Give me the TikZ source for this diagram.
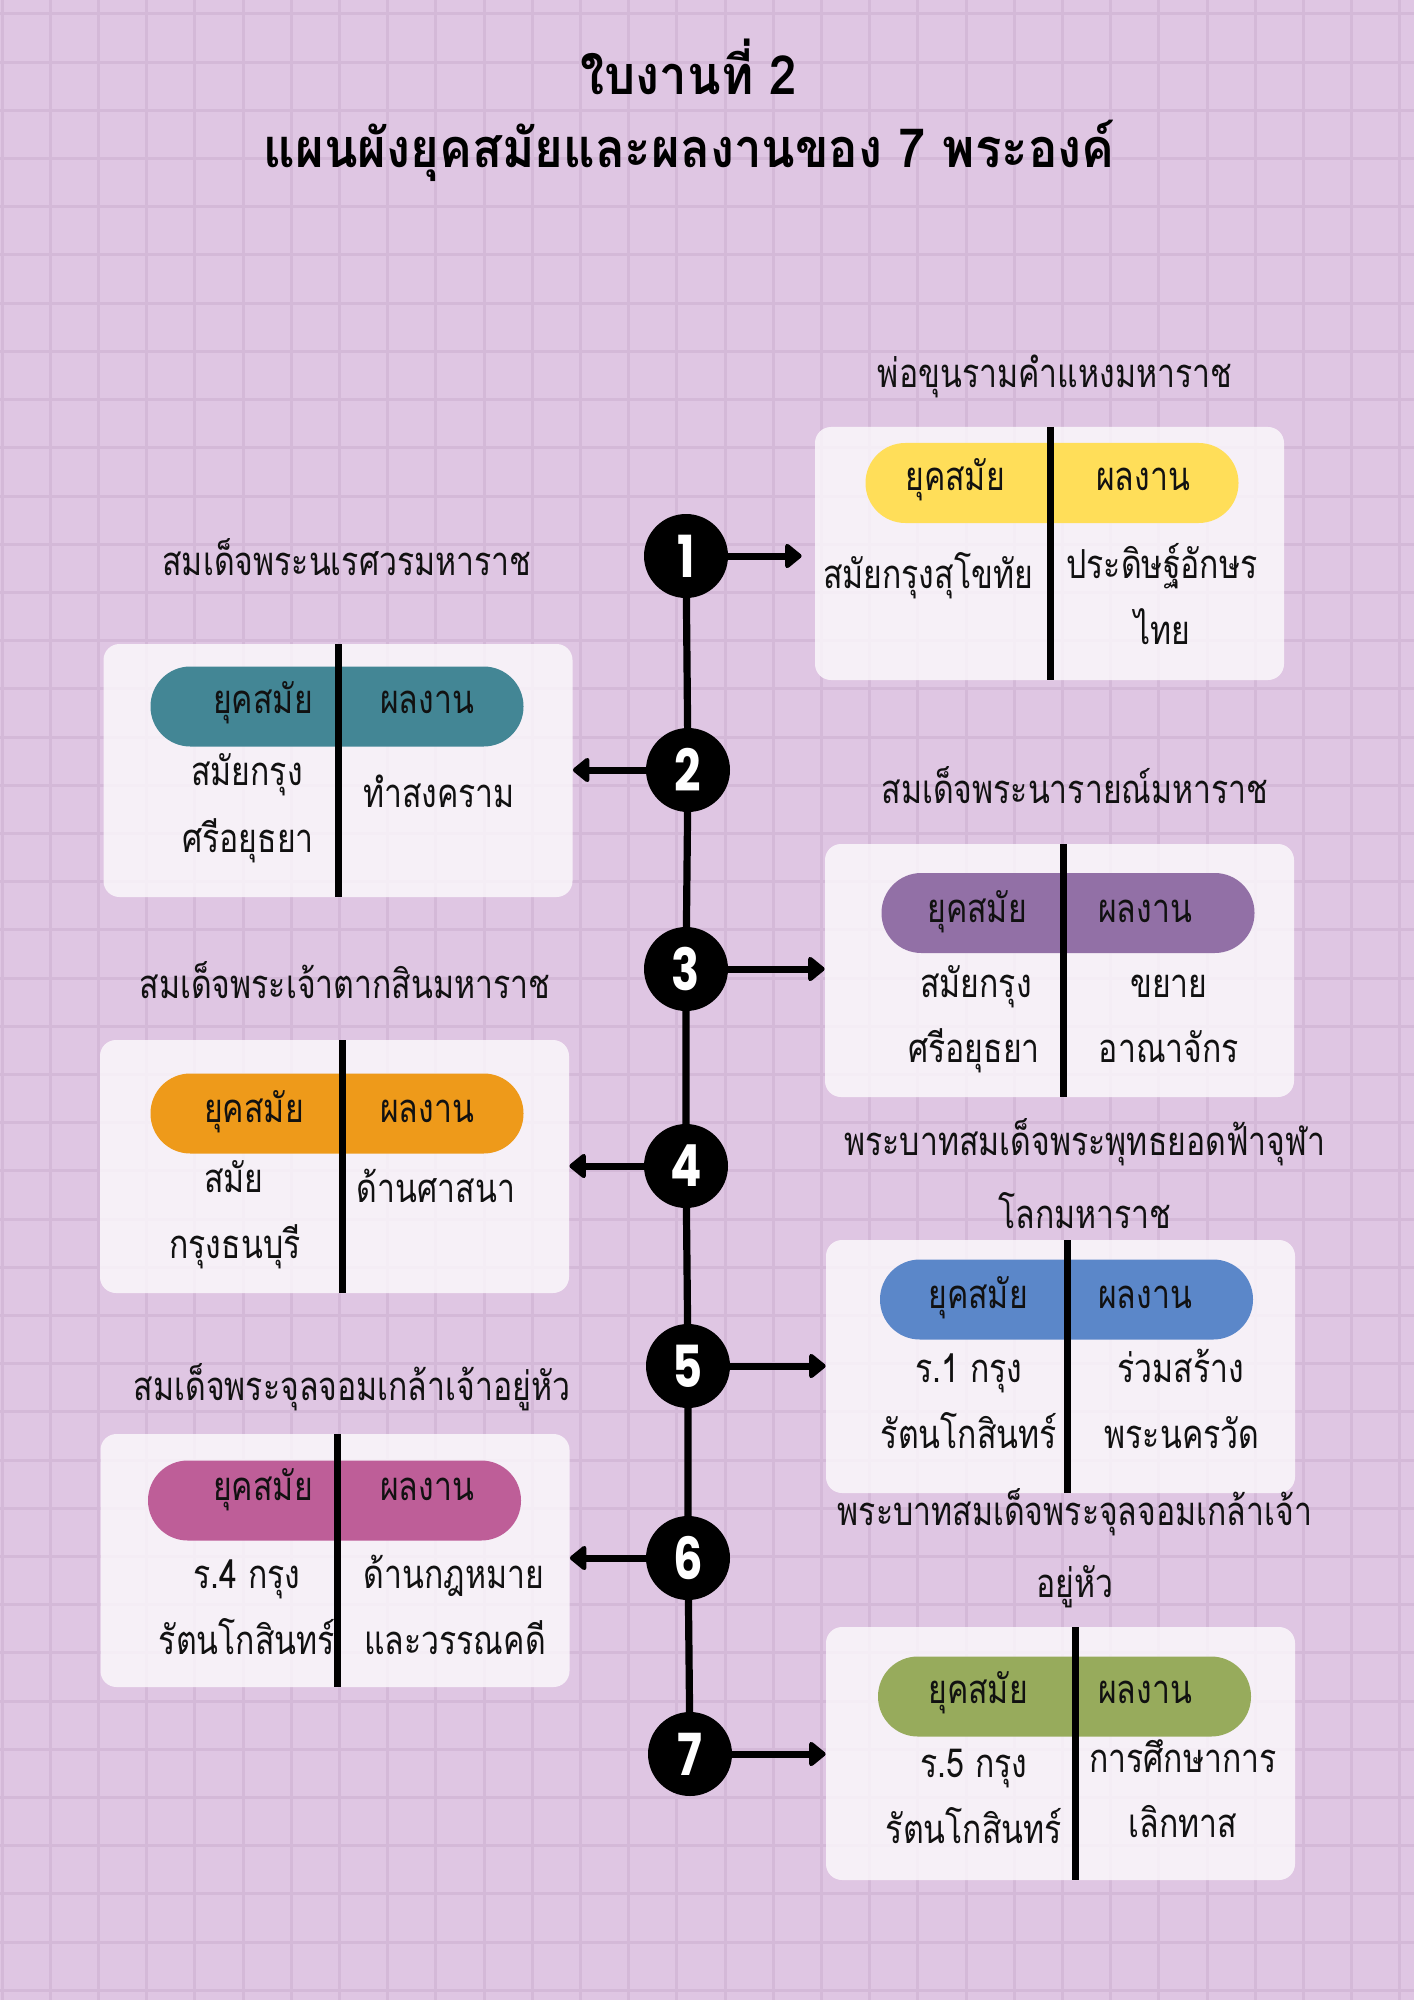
\documentclass[tikz,border=0pt]{standalone}
\usepackage{fontspec}
\usepackage{graphicx}
\usetikzlibrary{arrows.meta}
\newfontfamily\thaifont[Script=Thai,FakeStretch=0.8]{Loma}
\newfontfamily\thaititle[Script=Thai,FakeStretch=0.91]{Loma}
\newfontfamily\numfont{Poppins}
\definecolor{bgc}{HTML}{DFC6E3}
\definecolor{gridc}{HTML}{D4B9D8}
\definecolor{ink}{HTML}{111111}
\definecolor{cyellow}{HTML}{FFDE59}
\definecolor{cteal}{HTML}{438695}
\definecolor{cpurple}{HTML}{9270A6}
\definecolor{corange}{HTML}{EE9A1A}
\definecolor{cblue}{HTML}{5B87C9}
\definecolor{cpink}{HTML}{BE5E98}
\definecolor{cgreen}{HTML}{97AB5C}
\tikzset{
  gridline/.style={draw=gridc, line width=1.5pt},
  spine/.style={draw=black, line width=3.6pt},
  divline/.style={draw=black, line width=3.5pt},
  arr/.style={draw=black, line width=3.5pt, -{Triangle[length=9pt,width=14pt,round]}},
  card/.style={rectangle, rounded corners=8pt, fill=white, fill opacity=0.75, draw=none,
    minimum width=234.5pt, minimum height=126.5pt, inner sep=0pt},
  pill/.style={rectangle, rounded corners=19.9pt, draw=none,
    minimum width=186.5pt, minimum height=40pt, inner sep=0pt},
  num/.style={circle, fill=black, minimum size=42pt, inner sep=0pt, text=white,
    font=\numfont\bfseries\fontsize{29pt}{29pt}\selectfont},
  txt/.style={anchor=base, inner sep=0pt, text=ink,
    font=\thaifont\fontsize{20pt}{24pt}\selectfont},
  ttl/.style={anchor=base, inner sep=0pt, text=black,
    font=\thaititle\bfseries\fontsize{27pt}{32pt}\selectfont},
}
\newcommand\dg[1]{\scalebox{0.8}[1]{#1}}
\begin{document}
\begin{tikzpicture}[x=0.5pt,y=-0.5pt]
\useasboundingbox (0,0) rectangle (1414,2000);
\fill[bgc] (0,0) rectangle (1414,2000);
\foreach \i in {0,...,29} \draw[gridline] ({2+48.2*\i},0) -- ({2+48.2*\i},2000);
\foreach \i in {0,...,41} \draw[gridline] (0,{14+48.2*\i}) -- (1414,{14+48.2*\i});

% titles
\node[ttl] (title1) at (689,95) {ใบงานที่ 2};
\node[ttl] (title2) at (689,168) {แผนผังยุคสมัยและผลงานของ 7 พระองค์};

% cards
\node[card] (b1) at (1049.5,553.5) {};
\node[card] (b2) at (338,770.5) {};
\node[card] (b3) at (1059.5,970.5) {};
\node[card] (b4) at (334.5,1166.5) {};
\node[card] (b5) at (1060.5,1366.5) {};
\node[card] (b6) at (335,1560.5) {};
\node[card] (b7) at (1060.5,1753.5) {};

% pills
\node[pill, fill=cyellow] (p1) at (1052,483) {};
\node[pill, fill=cteal] (p2) at (337,706.5) {};
\node[pill, fill=cpurple] (p3) at (1068,913) {};
\node[pill, fill=corange] (p4) at (337,1113.5) {};
\node[pill, fill=cblue] (p5) at (1066.5,1299.5) {};
\node[pill, fill=cpink] (p6) at (334.5,1500.5) {};
\node[pill, fill=cgreen] (p7) at (1064.5,1696.5) {};

% dividers
\draw[divline] (1050,427) -- (1050,680);
\draw[divline] (338,644) -- (338,897);
\draw[divline] (1063,844) -- (1063,1097);
\draw[divline] (342,1040) -- (342,1293);
\draw[divline] (1067,1240) -- (1067,1493);
\draw[divline] (337,1434) -- (337,1687);
\draw[divline] (1075,1627) -- (1075,1880);

% circles
\coordinate (k1) at (686,556);
\coordinate (k2) at (688,770);
\coordinate (k3) at (686,969);
\coordinate (k4) at (686,1166);
\coordinate (k5) at (688,1366);
\coordinate (k6) at (688,1558);
\coordinate (k7) at (690,1754);
\draw[spine] (k1) -- (k2) -- (k3) -- (k4) -- (k5) -- (k6) -- (k7);
\node[num] (c1) at (k1) {\dg{1}};
\node[num] (c2) at (k2) {\dg{2}};
\node[num] (c3) at (k3) {\dg{3}};
\node[num] (c4) at (k4) {\dg{4}};
\node[num] (c5) at (k5) {\dg{5}};
\node[num] (c6) at (k6) {\dg{6}};
\node[num] (c7) at (k7) {\dg{7}};
\draw[arr, shorten >=6.5pt] (c1) -- (c1 -| b1.west);
\draw[arr] (c2) -- (c2 -| b2.east);
\draw[arr] (c3) -- (c3 -| b3.west);
\draw[arr] (c4) -- (c4 -| b4.east);
\draw[arr] (c5) -- (c5 -| b5.west);
\draw[arr] (c6) -- (c6 -| b6.east);
\draw[arr] (c7) -- (c7 -| b7.west);

% names above cards
\node[txt] (n1) at (1055,388) {พ่อขุนรามคำแหงมหาราช};
\node[txt] (n2) at (347,575) {สมเด็จพระนเรศวรมหาราช};
\node[txt] (n3) at (1075,803) {สมเด็จพระนารายณ์มหาราช};
\node[txt] (n4) at (345,998) {สมเด็จพระเจ้าตากสินมหาราช};
\node[txt] (n5a) at (1085,1155) {พระบาทสมเด็จพระพุทธยอดฟ้าจุฬา};
\node[txt] (n5b) at (1085,1228) {โลกมหาราช};
\node[txt] (n6) at (352,1400) {สมเด็จพระจุลจอมเกล้าเจ้าอยู่หัว};
\node[txt] (n7a) at (1075,1525) {พระบาทสมเด็จพระจุลจอมเกล้าเจ้า};
\node[txt] (n7b) at (1075,1597) {อยู่หัว};

% card 1
\node[txt] (h1a) at (955,490) {ยุคสมัย};
\node[txt] (h1b) at (1143,490) {ผลงาน};
\node[txt] (e1) at (928,588) {สมัยกรุงสุโขทัย};
\node[txt] (w1a) at (1162,578) {ประดิษฐ์อักษร};
\node[txt] (w1b) at (1162,644) {ไทย};
% card 2
\node[txt] (h2a) at (263,713) {ยุคสมัย};
\node[txt] (h2b) at (427,713) {ผลงาน};
\node[txt] (e2a) at (247,785) {สมัยกรุง};
\node[txt] (e2b) at (248,852) {ศรีอยุธยา};
\node[txt] (w2) at (439,807) {ทำสงคราม};
% card 3
\node[txt] (h3a) at (977,922) {ยุคสมัย};
\node[txt] (h3b) at (1145,922) {ผลงาน};
\node[txt] (e3a) at (976,997) {สมัยกรุง};
\node[txt] (e3b) at (974,1062) {ศรีอยุธยา};
\node[txt] (w3a) at (1169,997) {ขยาย};
\node[txt] (w3b) at (1169,1062) {อาณาจักร};
% card 4
\node[txt] (h4a) at (254,1122) {ยุคสมัย};
\node[txt] (h4b) at (427,1122) {ผลงาน};
\node[txt] (e4a) at (234,1192) {สมัย};
\node[txt] (e4b) at (235,1258) {กรุงธนบุรี};
\node[txt] (w4) at (436,1202) {ด้านศาสนา};
% card 5
\node[txt] (h5a) at (978,1308) {ยุคสมัย};
\node[txt] (h5b) at (1145,1308) {ผลงาน};
\node[txt] (e5a) at (969,1382) {ร.1 กรุง};
\node[txt] (e5b) at (969,1448) {รัตนโกสินทร์};
\node[txt] (w5a) at (1181,1382) {ร่วมสร้าง};
\node[txt] (w5b) at (1182,1448) {พระนครวัด};
% card 6
\node[txt] (h6a) at (263,1500) {ยุคสมัย};
\node[txt] (h6b) at (427,1500) {ผลงาน};
\node[txt] (e6a) at (247,1588) {ร.4 กรุง};
\node[txt] (e6b) at (247,1654) {รัตนโกสินทร์};
\node[txt] (w6a) at (454,1588) {ด้านกฎหมาย};
\node[txt] (w6b) at (455,1654) {และวรรณคดี};
% card 7
\node[txt] (h7a) at (978,1703) {ยุคสมัย};
\node[txt] (h7b) at (1145,1703) {ผลงาน};
\node[txt] (e7a) at (974,1777) {ร.5 กรุง};
\node[txt] (e7b) at (974,1843) {รัตนโกสินทร์};
\node[txt] (w7a) at (1183,1772) {การศึกษาการ};
\node[txt] (w7b) at (1183,1837) {เลิกทาส};
\end{tikzpicture}
\end{document}
